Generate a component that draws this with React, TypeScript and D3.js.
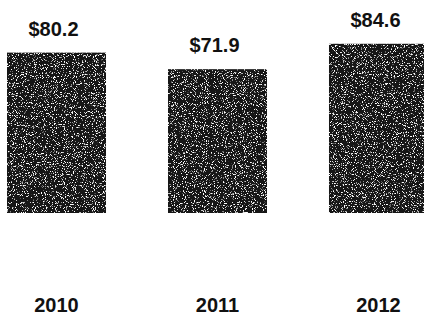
import React from "react";
import * as d3 from "d3";

const years = ["2010", "2011", "2012"];
const revenue = [80.2, 71.9, 84.6];
const valueLabels = ["$80.2", "$71.9", "$84.6"];

const W = 424;
const H = 317;

export default function App() {
  const x = d3
    .scaleBand()
    .domain(years)
    .range([7, 428])
    .paddingInner(0.385)
    .paddingOuter(0);

  const y = d3.scaleLinear().domain([0, 100]).range([213, 13]);

  return (
    <svg
      width={W}
      height={H}
      style={{ position: "absolute", left: 0, top: 0, background: "#fff" }}
      fontFamily="'Liberation Sans', Arial, sans-serif"
    >
      <defs>
        {/* scanned-looking speckle on the bars */}
        <filter id="grain" x="0" y="0" width="1" height="1">
          <feTurbulence type="fractalNoise" baseFrequency="0.9" numOctaves="2" seed="7" result="n" />
          <feColorMatrix
            in="n"
            type="matrix"
            values="0 0 0 0 1  0 0 0 0 1  0 0 0 0 1  9 0 0 0 -5.3"
            result="spk"
          />
          <feComposite in="spk" in2="SourceGraphic" operator="in" result="spkIn" />
          <feMerge>
            <feMergeNode in="SourceGraphic" />
            <feMergeNode in="spkIn" />
          </feMerge>
        </filter>
      </defs>
      {years.map((yr, i) => {
        const bx = x(yr)!;
        const cx = bx + x.bandwidth() / 2;
        return (
          <g key={yr}>
            <rect
              x={bx}
              y={y(revenue[i])}
              width={x.bandwidth()}
              height={y(0) - y(revenue[i])}
              fill="#141414"
              filter="url(#grain)"
            />
            <text
              x={cx - 3}
              y={y(revenue[i]) - 17}
              textAnchor="middle"
              fontSize={20}
              fontWeight="bold"
              fill="#111"
            >
              {valueLabels[i]}
            </text>
            <text
              x={cx}
              y={312}
              textAnchor="middle"
              fontSize={20}
              fontWeight="bold"
              fill="#111"
            >
              {yr}
            </text>
          </g>
        );
      })}
    </svg>
  );
}
